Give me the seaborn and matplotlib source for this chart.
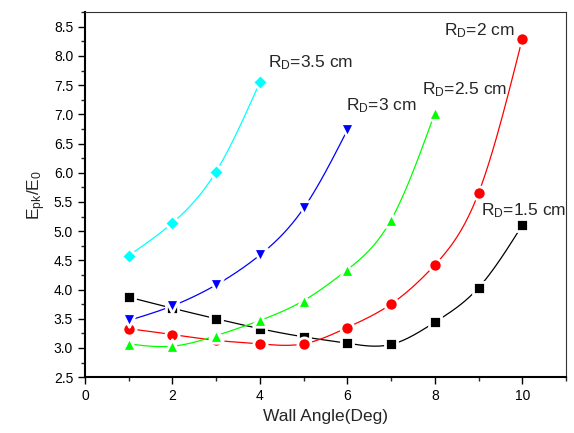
import numpy as np
import pandas as pd
import matplotlib
matplotlib.use("Agg")
import matplotlib.pyplot as plt
import seaborn as sns
from matplotlib.ticker import MultipleLocator

# Data
angle_15 = [1, 2, 3, 4, 5, 6, 7, 8, 9, 10]
epk_15 = [3.87, 3.68, 3.50, 3.33, 3.19, 3.08, 3.06, 3.44, 4.03, 5.10]

angle_20 = [1, 2, 3, 4, 5, 6, 7, 8, 9, 10]
epk_20 = [3.33, 3.23, 3.13, 3.07, 3.07, 3.35, 3.75, 4.42, 5.65, 8.29]

angle_25 = [1, 2, 3, 4, 5, 6, 7, 8]
epk_25 = [3.07, 3.03, 3.21, 3.47, 3.81, 4.34, 5.19, 7.02]

angle_30 = [1, 2, 3, 4, 5, 6]
epk_30 = [3.47, 3.72, 4.08, 4.59, 5.39, 6.73]

angle_35 = [1, 2, 3, 4]
epk_35 = [4.58, 5.14, 6.02, 7.55]

series_labels = ["R$_\\mathregular{D}$=1.5 cm", "R$_\\mathregular{D}$=2 cm",
                 "R$_\\mathregular{D}$=2.5 cm", "R$_\\mathregular{D}$=3 cm",
                 "R$_\\mathregular{D}$=3.5 cm"]


def natural_spline(x, y, n=200):
    # plain natural cubic spline, only used to draw the smooth connecting line
    x = np.asarray(x, float)
    y = np.asarray(y, float)
    k = len(x)
    h = np.diff(x)
    A = np.zeros((k, k))
    b = np.zeros(k)
    A[0, 0] = A[-1, -1] = 1
    for i in range(1, k - 1):
        A[i, i - 1] = h[i - 1]
        A[i, i] = 2 * (h[i - 1] + h[i])
        A[i, i + 1] = h[i]
        b[i] = 6 * ((y[i + 1] - y[i]) / h[i] - (y[i] - y[i - 1]) / h[i - 1])
    m = np.linalg.solve(A, b)
    xs = np.linspace(x[0], x[-1], n)
    idx = np.clip(np.searchsorted(x, xs) - 1, 0, k - 2)
    t0 = x[idx]
    t1 = x[idx + 1]
    hh = t1 - t0
    ys = (m[idx] * (t1 - xs) ** 3 / (6 * hh) + m[idx + 1] * (xs - t0) ** 3 / (6 * hh)
          + (y[idx] / hh - m[idx] * hh / 6) * (t1 - xs)
          + (y[idx + 1] / hh - m[idx + 1] * hh / 6) * (xs - t0))
    return xs, ys


sns.set_style("ticks")
plt.rcParams["font.family"] = ["Liberation Sans", "DejaVu Sans"]
plt.rcParams["mathtext.default"] = "regular"

fig = plt.figure(figsize=(5.74, 4.33), dpi=100)
ax = fig.add_axes([0.148, 0.129, 0.838, 0.843])

series = [
    (angle_15, epk_15, "black", "s", 80),
    (angle_20, epk_20, "#ff0000", "o", 90),
    (angle_25, epk_25, "#00ff00", "^", 95),
    (angle_30, epk_30, "#0000ff", "v", 95),
    (angle_35, epk_35, "#00ffff", "D", 65),
]

for xs, ys, color, marker, size in series:
    sx, sy = natural_spline(xs, ys)
    sns.lineplot(x=sx, y=sy, color=color, linewidth=0.9, sort=False, ax=ax, zorder=2)
    sns.scatterplot(x=xs, y=ys, color=color, marker=marker, s=size,
                    edgecolor="white", linewidth=2.0, ax=ax, zorder=3)

# curve labels
label_pos = [(9.06, 5.27), (8.22, 8.36), (7.71, 7.35), (5.96, 7.07), (4.18, 7.81)]
for (lx, ly), txt in zip(label_pos, series_labels):
    ax.text(lx, ly, txt, fontsize=12.5, ha="left", va="baseline")

ax.set_xlim(0, 11)
ax.set_ylim(2.5, 8.75)
ax.xaxis.set_major_locator(MultipleLocator(2))
ax.xaxis.set_minor_locator(MultipleLocator(1))
ax.yaxis.set_major_locator(MultipleLocator(0.5))
ax.yaxis.set_minor_locator(MultipleLocator(0.25))
ax.yaxis.set_major_formatter(matplotlib.ticker.FormatStrFormatter("%.1f"))

ax.tick_params(which="major", direction="out", length=5, width=1, labelsize=10,
               colors="black", top=False, right=False)
ax.tick_params(which="minor", direction="out", length=3, width=1, top=False, right=False)

for side in ["left", "bottom"]:
    ax.spines[side].set_linewidth(1.5)
    ax.spines[side].set_color("black")
for side in ["top", "right"]:
    ax.spines[side].set_linewidth(0.8)
    ax.spines[side].set_color("#333333")

ax.set_xlabel("Wall Angle(Deg)", fontsize=12.5)
ax.set_ylabel("E$_\\mathregular{pk}$/E$_\\mathregular{0}$", fontsize=12.5)
ax.grid(False)

fig.savefig("out.png", dpi=100)
